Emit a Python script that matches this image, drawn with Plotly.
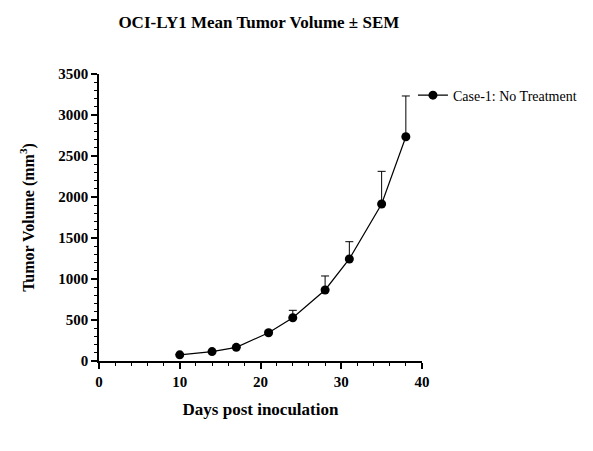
import plotly.graph_objects as go

days = [10, 14, 17, 21, 24, 28, 31, 35, 38]
mean_volume = [75, 115, 167, 345, 528, 866, 1244, 1915, 2735]
sem = [5, 8, 10, 20, 90, 171, 211, 398, 497]
series_name = "Case-1: No Treatment"

font_family = "Liberation Serif, Times New Roman, serif"

fig = go.Figure()
fig.add_trace(go.Scatter(
    x=days, y=mean_volume, mode="lines+markers", name=series_name,
    line=dict(color="black", width=1.2),
    marker=dict(color="black", size=9, symbol="circle"),
    error_y=dict(type="data", array=sem, arrayminus=[0]*len(sem), symmetric=False,
                 color="black", thickness=1, width=4),
    cliponaxis=False,
))

fig.update_layout(
    width=593, height=451,
    paper_bgcolor="white", plot_bgcolor="white",
    margin=dict(l=91, r=179, t=66, b=98, autoexpand=False),
    font=dict(family=font_family, color="black"),
    title=dict(text="<b>OCI-LY1 Mean Tumor Volume ± SEM</b>", x=0.423, xanchor="center",
               xref="container", y=0.969, yanchor="middle", font=dict(size=17, family=font_family)),
    showlegend=True,
    legend=dict(x=0.972, xanchor="left", y=0.925, yanchor="middle",
                font=dict(size=14, family=font_family), bgcolor="rgba(0,0,0,0)"),
)
fig.update_xaxes(
    range=[0, 40], dtick=10, showgrid=False, zeroline=False,
    showline=True, linecolor="black", linewidth=1.5,
    ticks="outside", ticklen=6, tickwidth=1.5, tickcolor="black",
    tickfont=dict(size=15, family=font_family, weight="bold"),
    minor=dict(dtick=2, ticks="outside", ticklen=3, tickwidth=1, tickcolor="black", showgrid=False),
    title=dict(text="<b>Days post inoculation</b>", font=dict(size=17, family=font_family), standoff=14),
)
fig.update_yaxes(
    range=[0, 3500], dtick=500, showgrid=False, zeroline=False,
    showline=True, linecolor="black", linewidth=1.5,
    ticks="outside", ticklen=6, tickwidth=1.5, tickcolor="black",
    tickfont=dict(size=15, family=font_family, weight="bold"),
    minor=dict(dtick=100, ticks="outside", ticklen=3, tickwidth=1, tickcolor="black", showgrid=False),
    title=dict(text="<b>Tumor Volume (mm<sup>3</sup>)</b>", font=dict(size=16, family=font_family), standoff=20),
)

fig.write_html("out.html")
